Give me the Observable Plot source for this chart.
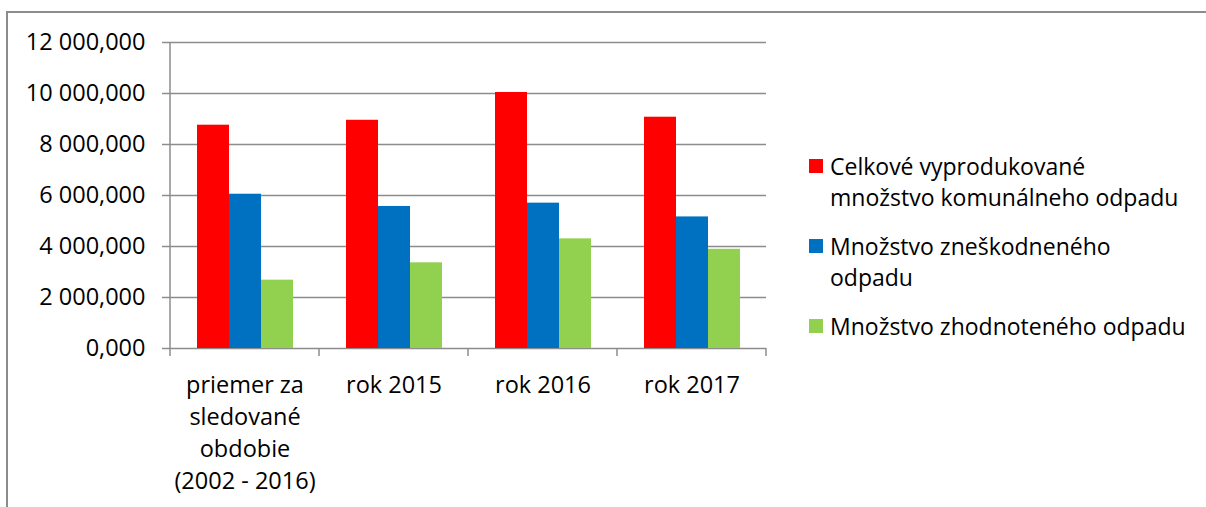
<!DOCTYPE html>
<html>
<head>
<meta charset="utf-8">
<script src="https://cdn.jsdelivr.net/npm/d3@7"></script>
<script src="https://cdn.jsdelivr.net/npm/@observablehq/plot@0.6"></script>
<style>
  html, body { margin: 0; padding: 0; background: #fff; }
  #wrap { position: relative; width: 1206px; height: 507px; overflow: hidden; font-family: "Open Sans", sans-serif; }
  #frame { position: absolute; left: 6px; top: 11px; width: 1210px; height: 510px; border-top: 2px solid #8c8c8c; border-left: 2px solid #8c8c8c; }
  #chart { position: absolute; left: 0; top: 0; }
  #legend { position: absolute; left: 809px; top: 151px; font-size: 23px; line-height: 31px; color: #000; }
  .item { position: relative; padding-left: 21px; margin-bottom: 18px; white-space: pre-line; }
  .sw { position: absolute; left: 0; top: 8px; width: 14px; height: 14px; }
</style>
</head>
<body>
<div id="wrap">
  <div id="frame"></div>
  <div id="chart"></div>
  <div id="legend"></div>
</div>
<script>
const categories = ["priemer za sledované obdobie (2002 - 2016)", "rok 2015", "rok 2016", "rok 2017"];
const categoryLabels = ["priemer za\nsledované\nobdobie\n(2002 - 2016)", "rok 2015", "rok 2016", "rok 2017"];
const series = ["Celkové vyprodukované množstvo komunálneho odpadu", "Množstvo zneškodneného odpadu", "Množstvo zhodnoteného odpadu"];
const legendLabels = ["Celkové vyprodukované\nmnožstvo komunálneho odpadu", "Množstvo zneškodneného\nodpadu", "Množstvo zhodnoteného odpadu"];
const colors = ["#ff0000", "#0070c0", "#92d050"];
const celkove = [8757, 8950, 10040, 9070];
const zneskodnene = [6050, 5570, 5700, 5160];
const zhodnotene = [2680, 3360, 4300, 3890];
const yTicks = [0, 2000, 4000, 6000, 8000, 10000, 12000];

const seriesValues = [celkove, zneskodnene, zhodnotene];
const data = [];
categories.forEach((c, i) => series.forEach((s, j) => data.push({category: c, series: s, value: seriesValues[j][i]})));

const sk = d3.formatLocale({decimal: ",", thousands: "\u00a0", grouping: [3], currency: ["", ""]});
const fmt = sk.format(",.3f");
const gridColor = "#8c8c8c";

const chart = Plot.plot({
  width: 790,
  height: 500,
  marginLeft: 170,
  marginRight: 24,
  marginTop: 42,
  marginBottom: 152,
  style: {fontFamily: "'Open Sans', sans-serif", fontSize: "23.5px", color: "#000", background: "transparent"},
  fx: {domain: categories, padding: 0, label: null},
  x: {domain: series, paddingInner: 0, paddingOuter: 0.76, axis: null},
  y: {domain: [0, 12000], label: null},
  color: {domain: series, range: colors},
  marks: [
    Plot.gridY(yTicks, {stroke: gridColor, strokeOpacity: 1, strokeWidth: 1.5}),
    Plot.axisY(yTicks, {tickSize: 8, tickPadding: 17, tickFormat: fmt, stroke: gridColor, strokeWidth: 1.5, label: null, fill: "#000"}),
    Plot.axisFx({anchor: "bottom", tickSize: 0, tickPadding: 22, lineHeight: 1.36, tickFormat: (d) => categoryLabels[categories.indexOf(d)], label: null, fill: "#000"}),
    Plot.barY(data, {fx: "category", x: "series", y: "value", fill: "series", inset: 0})
  ]
});
document.getElementById("chart").appendChild(chart);

// axis lines and category boundary ticks, positioned with Plot's own scales
const fx = chart.scale("fx");
const y = chart.scale("y");
const svg = d3.select(chart);
const y0 = y.apply(0);
const yTop = y.apply(12000);
const bounds = categories.map((c) => fx.apply(c)).concat([fx.apply(categories[categories.length - 1]) + fx.bandwidth]);
svg.append("line").attr("x1", bounds[0]).attr("x2", bounds[0]).attr("y1", yTop).attr("y2", y0 + 8)
  .attr("stroke", gridColor).attr("stroke-width", 1.5);
bounds.slice(1).forEach((bx) => {
  svg.append("line").attr("x1", bx).attr("x2", bx).attr("y1", y0).attr("y2", y0 + 8)
    .attr("stroke", gridColor).attr("stroke-width", 1.5);
});

const legend = d3.select("#legend");
series.forEach((s, i) => {
  const it = legend.append("div").attr("class", "item");
  it.append("div").attr("class", "sw").style("background", colors[i]);
  it.append("span").text(legendLabels[i]);
});
</script>
</body>
</html>
